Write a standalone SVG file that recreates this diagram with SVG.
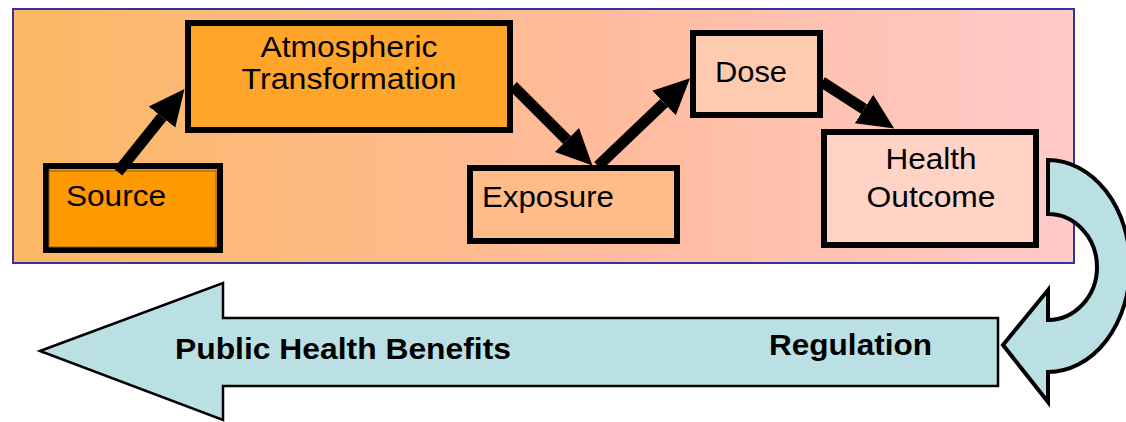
<svg xmlns="http://www.w3.org/2000/svg" width="1126" height="422" viewBox="0 0 1126 422">
  <defs>
    <linearGradient id="bg" x1="0" y1="0" x2="1" y2="0">
      <stop offset="0" stop-color="#FCB864"/>
      <stop offset="0.3" stop-color="#FDBA82"/>
      <stop offset="0.55" stop-color="#FFBB9C"/>
      <stop offset="1" stop-color="#FFCACA"/>
    </linearGradient>
    <marker id="head" markerUnits="userSpaceOnUse" markerWidth="36" markerHeight="36" refX="0" refY="17" orient="auto" viewBox="0 0 36 34">
      <path d="M0,0 L36,17 L0,34 Z" fill="#000"/>
    </marker>
  </defs>
  <style>
    .box { stroke: #000; stroke-width: 6; }
    .lbl { font-family: "Liberation Sans", Arial, sans-serif; font-size: 30px; fill: #000; }
    .bold { font-family: "Liberation Sans", Arial, sans-serif; font-size: 29px; font-weight: bold; fill: #000; }
    .conn { stroke: #000; stroke-width: 11; fill: none; marker-end: url(#head); }
    .blue { fill: #BBE0E3; stroke: #000; }
  </style>

  <rect id="panel" x="13" y="9" width="1061" height="254" fill="url(#bg)" stroke="#333399" stroke-width="2"/>

  <g id="source">
    <rect class="box" x="46" y="166" width="174" height="84" fill="#FF9900"/>
    <rect x="49" y="171" width="167" height="76" fill="none" stroke="#8a5a20" stroke-width="1"/>
    <text class="lbl" x="66" y="206" textLength="100" lengthAdjust="spacingAndGlyphs">Source</text>
  </g>

  <g id="atmospheric">
    <rect class="box" x="188" y="23" width="322" height="107" fill="#FFA62A"/>
    <text class="lbl" x="349" y="57" text-anchor="middle" textLength="177" lengthAdjust="spacingAndGlyphs">Atmospheric</text>
    <text class="lbl" x="349" y="89" text-anchor="middle" textLength="215" lengthAdjust="spacingAndGlyphs">Transformation</text>
  </g>

  <g id="exposure">
    <rect class="box" x="470" y="168" width="207" height="73" fill="#FFBB88"/>
    <text class="lbl" x="482" y="207" textLength="132" lengthAdjust="spacingAndGlyphs">Exposure</text>
  </g>

  <g id="dose">
    <rect class="box" x="693" y="33" width="127" height="82" fill="#FFCBB0"/>
    <text class="lbl" x="715" y="82" textLength="72" lengthAdjust="spacingAndGlyphs">Dose</text>
  </g>

  <g id="health">
    <rect class="box" x="824" y="132" width="212" height="113" fill="#FFD3C6"/>
    <text class="lbl" x="931" y="169" text-anchor="middle" textLength="91" lengthAdjust="spacingAndGlyphs">Health</text>
    <text class="lbl" x="931" y="207" text-anchor="middle" textLength="129" lengthAdjust="spacingAndGlyphs">Outcome</text>
  </g>

  <g id="connectors">
    <line class="conn" x1="118" y1="172" x2="162" y2="117"/>
    <line class="conn" x1="513" y1="86" x2="567" y2="140"/>
    <line class="conn" x1="598" y1="166" x2="664" y2="103"/>
    <line class="conn" x1="822" y1="82" x2="864" y2="109"/>
  </g>

  <g id="regulation-loop">
    <path class="blue" stroke-width="4" stroke-linejoin="miter" d="M1048,160 A82,106 0 0 1 1048,372 L1048,402 L1003,345 L1048,290 L1048,320 A49,53 0 0 0 1048,214 Z"/>
  </g>

  <g id="benefits-arrow">
    <polygon class="blue" stroke-width="2.5" points="40,351 223,283 223,318 998,318 998,386 223,386 223,420"/>
    <text class="bold" x="175" y="359" textLength="336" lengthAdjust="spacingAndGlyphs">Public Health Benefits</text>
    <text class="bold" x="769" y="355" textLength="163" lengthAdjust="spacingAndGlyphs">Regulation</text>
  </g>
</svg>
